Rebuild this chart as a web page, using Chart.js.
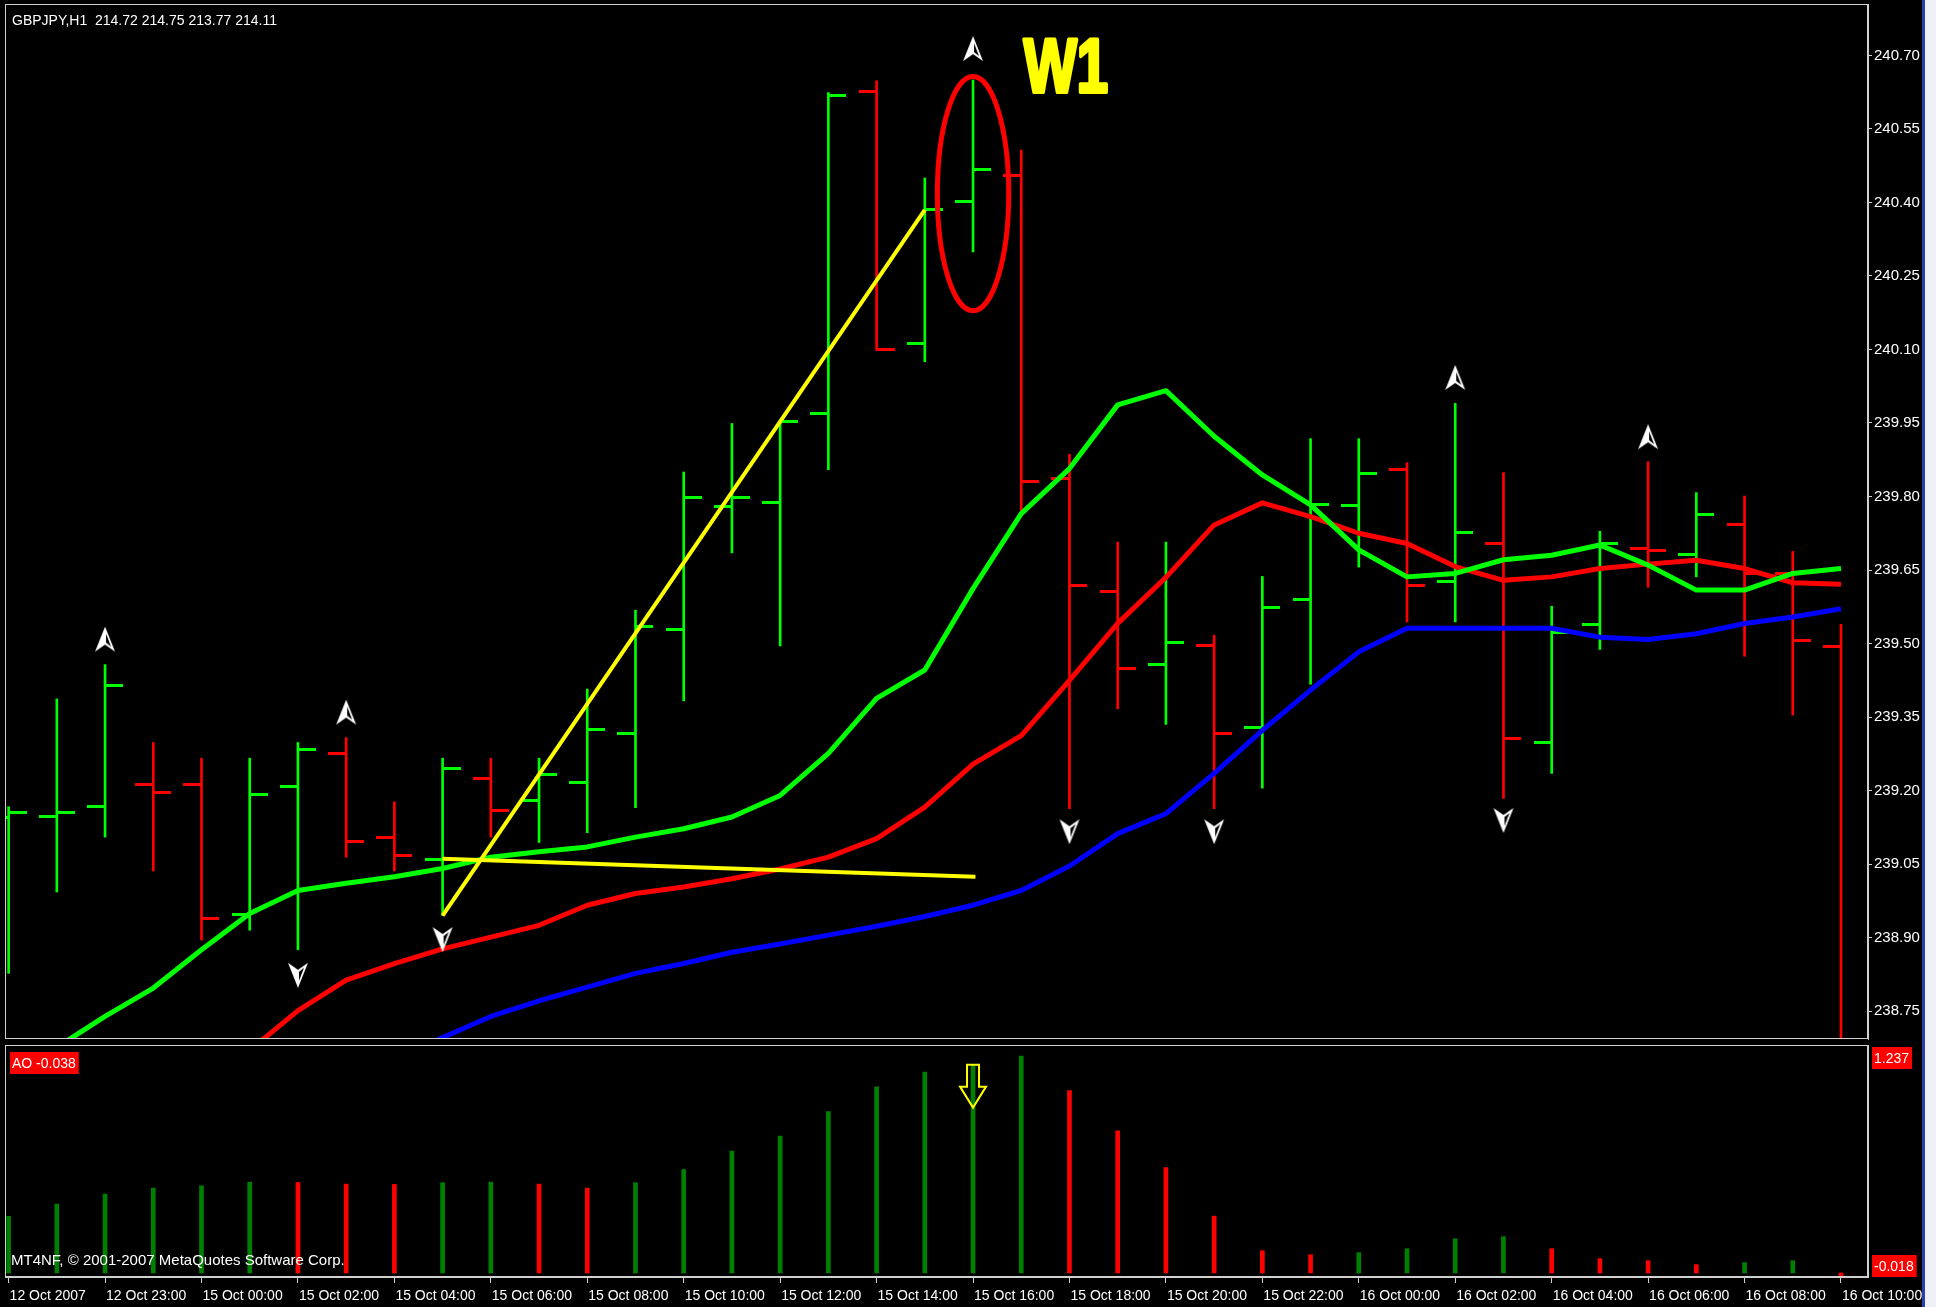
<!DOCTYPE html>
<html>
<head>
<meta charset="utf-8">
<title>GBPJPY,H1</title>
<script src="https://cdn.jsdelivr.net/npm/chart.js@4.4.1/dist/chart.umd.min.js"></script>
<style>
  html, body { margin: 0; padding: 0; background: #000; width: 1936px; height: 1307px; overflow: hidden; }
  #priceChart { position: absolute; left: 0; top: 0; }
  #aoChart { position: absolute; left: 0; top: 1042px; }
  .edge { position: absolute; top: 0; height: 1307px; }
</style>
</head>
<body>
<canvas id="priceChart" width="1936" height="1042"></canvas>
<canvas id="aoChart" width="1936" height="265"></canvas>
<div class="edge" style="left:1922px;width:3px;background:#2b3fa6"></div>
<div class="edge" style="left:1925px;width:11px;background:#eef0f6"></div>
<script>
// GBPJPY H1 bars, 12 Oct 21:00 .. 16 Oct 10:00
const opens  = [239.145, 239.147, 239.167, 239.213, 239.213, 238.948, 239.209, 239.276, 239.104, 239.059, 239.225, 239.180, 239.216, 239.316, 239.529, 239.780, 239.787, 239.970, 240.627, 240.113, 240.403, 240.456, 239.837, 239.607, 239.457, 239.495, 239.329, 239.590, 239.781, 239.855, 239.627, 239.705, 239.299, 239.539, 239.694, 239.682, 239.743, 239.643, 239.494];
const highs  = [239.167, 239.387, 239.457, 239.298, 239.266, 239.266, 239.298, 239.308, 239.177, 239.266, 239.266, 239.266, 239.407, 239.568, 239.850, 239.949, 239.956, 240.624, 240.648, 240.450, 240.650, 240.507, 239.886, 239.707, 239.707, 239.517, 239.637, 239.918, 239.918, 239.869, 239.990, 239.849, 239.576, 239.729, 239.871, 239.808, 239.801, 239.688, 239.539];
const lows   = [238.827, 238.993, 239.105, 239.036, 238.895, 238.915, 238.875, 239.064, 239.036, 238.945, 239.105, 239.094, 239.114, 239.165, 239.383, 239.685, 239.495, 239.855, 240.098, 240.075, 240.299, 239.767, 239.163, 239.367, 239.335, 239.163, 239.205, 239.417, 239.656, 239.544, 239.544, 239.184, 239.235, 239.488, 239.615, 239.636, 239.474, 239.354, 238.600];
const closes = [239.155, 239.155, 239.414, 239.195, 238.938, 239.192, 239.283, 239.097, 239.067, 239.245, 239.160, 239.233, 239.324, 239.535, 239.797, 239.797, 239.954, 240.618, 240.100, 240.386, 240.468, 239.830, 239.619, 239.449, 239.503, 239.316, 239.573, 239.784, 239.847, 239.619, 239.726, 239.307, 239.522, 239.705, 239.689, 239.763, 239.643, 239.507, 238.650];

// alligator lines
const lipsLine  = [238.615, 238.676, 238.739, 238.797, 238.875, 238.949, 238.996, 239.011, 239.024, 239.041, 239.064, 239.075, 239.085, 239.105, 239.122, 239.146, 239.190, 239.276, 239.388, 239.446, 239.612, 239.765, 239.857, 239.987, 240.016, 239.923, 239.844, 239.783, 239.691, 239.636, 239.643, 239.671, 239.680, 239.701, 239.660, 239.609, 239.609, 239.643, 239.653];
const teethLine = [238.393, 238.456, 238.519, 238.575, 238.630, 238.670, 238.751, 238.813, 238.847, 238.877, 238.901, 238.925, 238.966, 238.990, 239.003, 239.020, 239.040, 239.064, 239.102, 239.166, 239.254, 239.312, 239.425, 239.541, 239.635, 239.742, 239.787, 239.759, 239.725, 239.704, 239.657, 239.629, 239.636, 239.653, 239.662, 239.670, 239.653, 239.624, 239.621];
const jawLine   = [238.380, 238.400, 238.425, 238.450, 238.480, 238.510, 238.545, 238.590, 238.650, 238.696, 238.739, 238.771, 238.799, 238.827, 238.847, 238.870, 238.887, 238.905, 238.923, 238.943, 238.966, 238.996, 239.046, 239.112, 239.153, 239.235, 239.323, 239.405, 239.483, 239.531, 239.531, 239.531, 239.531, 239.513, 239.508, 239.520, 239.541, 239.554, 239.571];

// awesome oscillator
const aoValues = [0.323, 0.393, 0.450, 0.484, 0.497, 0.518, 0.516, 0.507, 0.505, 0.515, 0.518, 0.507, 0.484, 0.515, 0.590, 0.695, 0.780, 0.921, 1.061, 1.146, 1.188, 1.237, 1.040, 0.810, 0.601, 0.324, 0.127, 0.104, 0.116, 0.138, 0.195, 0.207, 0.138, 0.082, 0.070, 0.047, 0.059, 0.070, -0.038];
const aoScaleLabels = [1.237, -0.018];

// fractals
const fractalUpBars = [2, 7, 20, 30, 34];
const fractalUpPrices = [239.508, 239.359, 240.713, 240.042, 239.921];
const fractalDownBars = [6, 9, 22, 25, 31];
const fractalDownPrices = [238.824, 238.897, 239.117, 239.117, 239.140];

// hand drawn lines
const trendBars = [9, 19];
const trendPrices = [238.945, 240.385];
const flatBars = [9, 20.05];
const flatPrices = [239.061, 239.024];

const priceTicks = [238.75, 238.90, 239.05, 239.20, 239.35, 239.50, 239.65, 239.80, 239.95, 240.10, 240.25, 240.40, 240.55, 240.70];
const timeLabels = ['12 Oct 2007', '12 Oct 23:00', '15 Oct 00:00', '15 Oct 02:00', '15 Oct 04:00', '15 Oct 06:00', '15 Oct 08:00', '15 Oct 10:00', '15 Oct 12:00', '15 Oct 14:00', '15 Oct 16:00', '15 Oct 18:00', '15 Oct 20:00', '15 Oct 22:00', '16 Oct 00:00', '16 Oct 02:00', '16 Oct 04:00', '16 Oct 06:00', '16 Oct 08:00', '16 Oct 10:00'];
const headerQuote = ['214.72', '214.75', '213.77', '214.11'];

// axis ranges
const xMin = -0.075, xMax = 38.56;
const priceMin = 238.693, priceMax = 240.805;
const aoMin = -0.023, aoMax = 1.300;

const frameColor = '#d0d0d0';
const fontFamily = '"Liberation Sans", Arial, sans-serif';
const upColor = '#00ff00', downColor = '#ff0000';

const barIdx = opens.map((_, i) => i);
const isUp = barIdx.map(i => closes[i] >= opens[i]);

function tickImage(color, side) {
  const c = document.createElement('canvas');
  c.width = 36; c.height = 3;
  const g = c.getContext('2d');
  g.fillStyle = color;
  g.fillRect(side === 'left' ? 0 : 18, 0, 18, 3);
  return c;
}

function fractalImage(up) {
  const c = document.createElement('canvas');
  c.width = 22; c.height = 26;
  const g = c.getContext('2d');
  if (!up) { g.translate(0, 26); g.scale(1, -1); }
  g.fillStyle = '#ffffff';
  g.beginPath();
  g.moveTo(11, 0); g.lineTo(21, 25); g.lineTo(11, 18); g.lineTo(1, 25);
  g.closePath(); g.fill();
  g.fillStyle = '#000000';
  g.beginPath();
  g.moveTo(12, 7); g.lineTo(17, 20); g.lineTo(12, 16);
  g.closePath(); g.fill();
  return c;
}

const openUp = tickImage(upColor, 'left'), openDown = tickImage(downColor, 'left');
const closeUp = tickImage(upColor, 'right'), closeDown = tickImage(downColor, 'right');
const arrowUp = fractalImage(true), arrowDown = fractalImage(false);

function frame(chart) {
  const { ctx, chartArea: a } = chart;
  ctx.save();
  ctx.strokeStyle = frameColor;
  ctx.lineWidth = 1;
  ctx.strokeRect(a.left + 0.5, a.top + 0.5, a.right - a.left - 1, a.bottom - a.top - 1);
  ctx.restore();
}

const mainDecor = {
  id: 'mainDecor',
  afterDatasetsDraw(chart) {
    const { ctx, scales: { x, y } } = chart;
    ctx.save();
    // circle round the W1 bar
    const cx = x.getPixelForValue(20), cy = y.getPixelForValue(240.418);
    const rx = x.getPixelForValue(20.74) - cx;
    const ry = cy - y.getPixelForValue(240.657);
    ctx.beginPath();
    ctx.ellipse(cx, cy, rx, ry, 0, 0, Math.PI * 2);
    ctx.lineWidth = 5;
    ctx.strokeStyle = '#ff0000';
    ctx.stroke();
    // W1 label
    ctx.translate(x.getPixelForValue(21.05), y.getPixelForValue(240.626));
    ctx.scale(0.74, 1);
    ctx.font = 'bold 76px ' + fontFamily;
    ctx.fillStyle = '#ffff00';
    ctx.strokeStyle = '#ffff00';
    ctx.lineWidth = 4;
    ctx.lineJoin = 'round';
    ctx.textBaseline = 'alphabetic';
    ctx.strokeText('W1', 0, 0);
    ctx.fillText('W1', 0, 0);
    ctx.restore();
  },
  afterDraw(chart) {
    frame(chart);
    const { ctx, chartArea: a } = chart;
    ctx.save();
    ctx.font = '14px ' + fontFamily;
    ctx.fillStyle = '#ffffff';
    ctx.textBaseline = 'middle';
    ctx.fillText('GBPJPY,H1  ' + headerQuote.join(' '), a.left + 7, a.top + 17);
    ctx.restore();
  }
};

function labelBox(ctx, text, left, cy) {
  const w = ctx.measureText(text).width;
  ctx.fillStyle = '#ff0000';
  ctx.fillRect(left, cy - 11, w + 5, 22);
  ctx.fillStyle = '#ffffff';
  ctx.fillText(text, left + 2, cy + 1);
}

const aoDecor = {
  id: 'aoDecor',
  afterDatasetsDraw(chart) {
    const { ctx, scales: { x, y } } = chart;
    const px = x.getPixelForValue(20), top = y.getPixelForValue(aoValues[20]);
    ctx.save();
    ctx.beginPath();
    ctx.moveTo(px - 6, top); ctx.lineTo(px + 6, top); ctx.lineTo(px + 6, top + 22);
    ctx.lineTo(px + 13, top + 22); ctx.lineTo(px, top + 43); ctx.lineTo(px - 13, top + 22);
    ctx.lineTo(px - 6, top + 22); ctx.closePath();
    ctx.lineWidth = 2;
    ctx.strokeStyle = '#ffff00';
    ctx.stroke();
    ctx.restore();
  },
  afterDraw(chart) {
    frame(chart);
    const { ctx, chartArea: a, scales: { y } } = chart;
    ctx.save();
    ctx.font = '14px ' + fontFamily;
    ctx.textBaseline = 'middle';
    labelBox(ctx, 'AO ' + aoValues[aoValues.length - 1].toFixed(3), a.left + 5, a.top + 18);
    aoScaleLabels.forEach(v => {
      const cy = Math.min(Math.max(y.getPixelForValue(v), a.top + 13), a.bottom - 11);
      labelBox(ctx, v.toFixed(3), a.right + 4, cy);
    });
    ctx.font = '15px ' + fontFamily;
    ctx.fillStyle = '#ffffff';
    ctx.fillText('MT4NF, \u00a9 2001-2007 MetaQuotes Software Corp.', a.left + 6, a.bottom - 16);
    ctx.restore();
  }
};

new Chart(document.getElementById('priceChart'), {
  type: 'scatter',
  data: {
    datasets: [
      {
        type: 'bar',
        data: barIdx.map(i => ({ x: i, y: [lows[i], highs[i]] })),
        backgroundColor: barIdx.map(i => isUp[i] ? upColor : downColor),
        borderWidth: 0,
        barThickness: 2,
        order: 10
      },
      {
        data: barIdx.map(i => ({ x: i, y: opens[i] })),
        pointStyle: barIdx.map(i => isUp[i] ? openUp : openDown),
        pointRadius: 4,
        order: 9
      },
      {
        data: barIdx.map(i => ({ x: i, y: closes[i] })),
        pointStyle: barIdx.map(i => isUp[i] ? closeUp : closeDown),
        pointRadius: 4,
        order: 9
      },
      { type: 'line', data: barIdx.map(i => ({ x: i, y: jawLine[i] })), borderColor: '#0000ff', borderWidth: 5, pointRadius: 0, borderJoinStyle: 'round', order: 6 },
      { type: 'line', data: barIdx.map(i => ({ x: i, y: teethLine[i] })), borderColor: '#ff0000', borderWidth: 5, pointRadius: 0, borderJoinStyle: 'round', order: 5 },
      { type: 'line', data: barIdx.map(i => ({ x: i, y: lipsLine[i] })), borderColor: '#00ff00', borderWidth: 5, pointRadius: 0, borderJoinStyle: 'round', order: 4 },
      { type: 'line', data: trendBars.map((b, k) => ({ x: b, y: trendPrices[k] })), borderColor: '#ffff00', borderWidth: 4, pointRadius: 0, order: 3 },
      { type: 'line', data: flatBars.map((b, k) => ({ x: b, y: flatPrices[k] })), borderColor: '#ffff00', borderWidth: 4, pointRadius: 0, order: 3 },
      { data: fractalUpBars.map((b, k) => ({ x: b, y: fractalUpPrices[k] })), pointStyle: arrowUp, pointRadius: 5, order: 1 },
      { data: fractalDownBars.map((b, k) => ({ x: b, y: fractalDownPrices[k] })), pointStyle: arrowDown, pointRadius: 5, order: 1 }
    ]
  },
  options: {
    responsive: false,
    animation: false,
    events: [],
    layout: { autoPadding: false, padding: { left: 5, top: 4, right: 0, bottom: 3 } },
    plugins: { legend: { display: false }, tooltip: { enabled: false } },
    scales: {
      x: { type: 'linear', min: xMin, max: xMax, display: false, offset: false },
      y: {
        type: 'linear',
        position: 'right',
        min: priceMin,
        max: priceMax,
        afterBuildTicks: s => { s.ticks = priceTicks.map(v => ({ value: v })); },
        afterFit: s => { s.width = 68; s.paddingTop = 0; s.paddingBottom = 0; },
        grid: { drawOnChartArea: false, drawTicks: true, tickLength: 4, color: frameColor },
        border: { display: true, color: frameColor, width: 1 },
        ticks: { color: '#ffffff', font: { family: fontFamily, size: 15 }, padding: 2, callback: v => v.toFixed(2) }
      }
    }
  },
  plugins: [mainDecor]
});

new Chart(document.getElementById('aoChart'), {
  type: 'bar',
  data: {
    datasets: [{
      data: barIdx.map(i => ({ x: i, y: aoValues[i] })),
      backgroundColor: aoValues.map((v, i) => (i === 0 || v > aoValues[i - 1]) ? '#008000' : '#ff0000'),
      borderWidth: 0,
      barThickness: 4
    }]
  },
  options: {
    responsive: false,
    animation: false,
    events: [],
    layout: { autoPadding: false, padding: { left: 5, top: 3, right: 0, bottom: 0 } },
    plugins: { legend: { display: false }, tooltip: { enabled: false } },
    scales: {
      x: {
        type: 'linear',
        min: xMin,
        max: xMax,
        offset: false,
        afterBuildTicks: s => { s.ticks = timeLabels.map((_, k) => ({ value: k * 2 })); },
        afterFit: s => { s.height = 30; s.paddingLeft = 0; s.paddingRight = 0; },
        grid: { offset: false, drawOnChartArea: false, drawTicks: true, tickLength: 6, color: frameColor },
        border: { display: true, color: frameColor, width: 1 },
        ticks: {
          color: '#ffffff',
          font: { family: fontFamily, size: 14 },
          align: 'start',
          autoSkip: false,
          maxRotation: 0,
          minRotation: 0,
          padding: 5,
          labelOffset: 1,
          callback: (v, k) => timeLabels[k]
        }
      },
      y: {
        type: 'linear',
        position: 'right',
        min: aoMin,
        max: aoMax,
        afterFit: s => { s.width = 68; s.paddingTop = 0; s.paddingBottom = 0; },
        grid: { display: false },
        border: { display: true, color: frameColor, width: 1 },
        ticks: { display: false }
      }
    }
  },
  plugins: [aoDecor]
});
</script>
</body>
</html>
